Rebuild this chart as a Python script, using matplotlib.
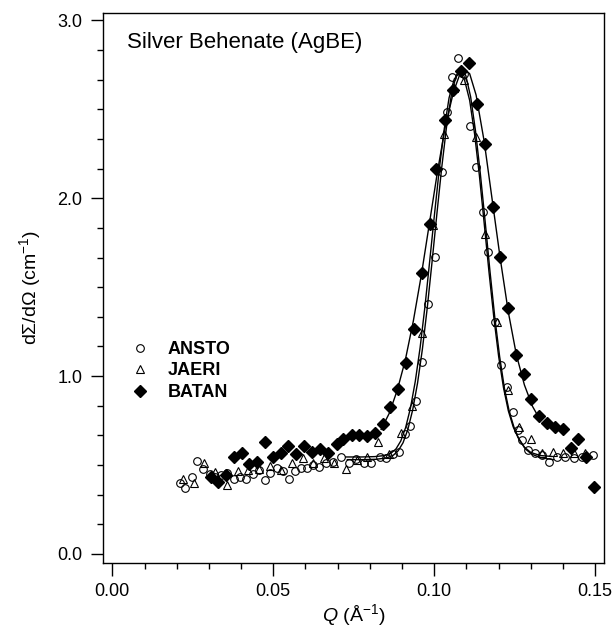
import matplotlib
matplotlib.use("Agg")
import matplotlib.pyplot as plt
from matplotlib.ticker import MultipleLocator, FixedLocator
import numpy as np

plt.rcParams['font.family'] = ['Liberation Sans', 'DejaVu Sans']
plt.rcParams['mathtext.fontset'] = 'custom'
plt.rcParams['mathtext.rm'] = 'Liberation Sans'
plt.rcParams['mathtext.it'] = 'Liberation Sans:italic'

# ANSTO data (open circles)
q_ansto = [0.0210, 0.0226, 0.0247, 0.0264, 0.0283, 0.0303, 0.0320, 0.0336, 0.0356, 0.0377,
           0.0398, 0.0415, 0.0436, 0.0455, 0.0473, 0.0491, 0.0511, 0.0530, 0.0548, 0.0566,
           0.0585, 0.0604, 0.0623, 0.0643, 0.0664, 0.0686, 0.0710, 0.0735, 0.0757, 0.0781,
           0.0805, 0.0830, 0.0850, 0.0872, 0.0891, 0.0908, 0.0925, 0.0943, 0.0961, 0.0981,
           0.1002, 0.1023, 0.1038, 0.1054, 0.1075, 0.1093, 0.1111, 0.1130, 0.1150, 0.1168,
           0.1189, 0.1206, 0.1225, 0.1246, 0.1261, 0.1271, 0.1292, 0.1313, 0.1334, 0.1357,
           0.1380, 0.1406, 0.1434, 0.1458, 0.1494]
i_ansto = [0.400, 0.370, 0.435, 0.520, 0.480, 0.450, 0.430, 0.445, 0.455, 0.420,
           0.435, 0.420, 0.450, 0.470, 0.416, 0.453, 0.481, 0.465, 0.420, 0.465,
           0.485, 0.483, 0.500, 0.488, 0.510, 0.519, 0.543, 0.509, 0.532, 0.513,
           0.509, 0.543, 0.537, 0.560, 0.575, 0.675, 0.720, 0.861, 1.081, 1.408,
           1.670, 2.148, 2.485, 2.682, 2.790, 2.700, 2.404, 2.176, 1.923, 1.698,
           1.305, 1.062, 0.940, 0.800, 0.697, 0.640, 0.584, 0.566, 0.556, 0.519,
           0.547, 0.547, 0.537, 0.547, 0.556]

# JAERI data (open triangles)
q_jaeri = [0.0219, 0.0254, 0.0286, 0.0320, 0.0355, 0.0390, 0.0422, 0.0455, 0.0489, 0.0524,
           0.0558, 0.0592, 0.0624, 0.0657, 0.0690, 0.0726, 0.0759, 0.0792, 0.0826, 0.0860,
           0.0896, 0.0930, 0.0961, 0.0995, 0.1030, 0.1062, 0.1092, 0.1130, 0.1157, 0.1194,
           0.1230, 0.1264, 0.1299, 0.1334, 0.1370, 0.1401, 0.1434, 0.1468]
i_jaeri = [0.420, 0.400, 0.510, 0.460, 0.390, 0.465, 0.470, 0.480, 0.494, 0.472,
           0.513, 0.540, 0.513, 0.537, 0.513, 0.480, 0.526, 0.545, 0.628, 0.560,
           0.680, 0.830, 1.240, 1.850, 2.363, 2.620, 2.663, 2.345, 1.800, 1.305,
           0.921, 0.715, 0.645, 0.570, 0.575, 0.570, 0.566, 0.570]

# BATAN data (filled diamonds)
q_batan = [0.0306, 0.0329, 0.0353, 0.0378, 0.0402, 0.0425, 0.0450, 0.0474, 0.0498, 0.0523,
           0.0547, 0.0570, 0.0595, 0.0620, 0.0645, 0.0671, 0.0697, 0.0718, 0.0743, 0.0767,
           0.0790, 0.0816, 0.0840, 0.0862, 0.0888, 0.0912, 0.0937, 0.0961, 0.0987, 0.1005,
           0.1033, 0.1059, 0.1082, 0.1108, 0.1132, 0.1157, 0.1181, 0.1204, 0.1230, 0.1254,
           0.1279, 0.1302, 0.1326, 0.1349, 0.1375, 0.1401, 0.1424, 0.1447, 0.1471, 0.1496]
i_batan = [0.430, 0.406, 0.444, 0.547, 0.569, 0.506, 0.519, 0.631, 0.547, 0.570,
           0.606, 0.560, 0.605, 0.575, 0.590, 0.570, 0.620, 0.645, 0.667, 0.670,
           0.662, 0.680, 0.730, 0.824, 0.925, 1.071, 1.262, 1.580, 1.854, 2.167,
           2.438, 2.607, 2.715, 2.760, 2.532, 2.303, 1.950, 1.667, 1.380, 1.118,
           1.011, 0.871, 0.775, 0.734, 0.715, 0.701, 0.594, 0.644, 0.547, 0.378]

# fitted curves
q_fit_ansto = [0.0730, 0.0780, 0.0820, 0.0853, 0.0873, 0.0888, 0.0903, 0.0918, 0.0933, 0.0948,
               0.0963, 0.0978, 0.0993, 0.1008, 0.1023, 0.1038, 0.1053, 0.1068, 0.1083, 0.1098,
               0.1113, 0.1128, 0.1143, 0.1158, 0.1173, 0.1188, 0.1203, 0.1218, 0.1233, 0.1248,
               0.1263, 0.1283, 0.1303, 0.1333, 0.1370]
i_fit_ansto = [0.530, 0.530, 0.532, 0.540, 0.555, 0.580, 0.625, 0.700, 0.810, 0.960,
               1.150, 1.380, 1.640, 1.910, 2.170, 2.400, 2.580, 2.690, 2.730, 2.690,
               2.570, 2.380, 2.140, 1.870, 1.590, 1.330, 1.110, 0.930, 0.800, 0.710,
               0.645, 0.590, 0.560, 0.540, 0.530]

q_fit_jaeri = [0.0725, 0.0775, 0.0815, 0.0846, 0.0866, 0.0881, 0.0896, 0.0911, 0.0926, 0.0941,
               0.0956, 0.0971, 0.0986, 0.1001, 0.1016, 0.1031, 0.1046, 0.1062, 0.1078, 0.1094,
               0.1110, 0.1125, 0.1140, 0.1155, 0.1170, 0.1185, 0.1200, 0.1215, 0.1230, 0.1245,
               0.1260, 0.1280, 0.1300, 0.1330, 0.1365]
i_fit_jaeri = [0.545, 0.545, 0.547, 0.553, 0.567, 0.590, 0.635, 0.710, 0.820, 0.970,
               1.160, 1.390, 1.650, 1.915, 2.170, 2.390, 2.565, 2.670, 2.705, 2.665,
               2.550, 2.365, 2.130, 1.860, 1.585, 1.330, 1.110, 0.935, 0.805, 0.715,
               0.655, 0.600, 0.570, 0.553, 0.548]

q_fit_batan = [0.0835, 0.0860, 0.0885, 0.0910, 0.0935, 0.0960, 0.0985, 0.1010, 0.1035, 0.1060,
               0.1080, 0.1095, 0.1110, 0.1130, 0.1155, 0.1180, 0.1205, 0.1230, 0.1255, 0.1280,
               0.1305, 0.1330]
i_fit_batan = [0.700, 0.790, 0.920, 1.090, 1.310, 1.570, 1.860, 2.150, 2.410, 2.600,
               2.700, 2.725, 2.700, 2.580, 2.320, 1.990, 1.660, 1.360, 1.120, 0.950,
               0.830, 0.750]

fig = plt.figure(figsize=(6.15, 6.3), dpi=100)
ax = fig.add_axes([0.168, 0.107, 0.814, 0.873])

ax.plot(q_ansto, i_ansto, 'o', mfc='none', mec='black', mew=0.8, ms=5.5, label='ANSTO')
ax.plot(q_jaeri, i_jaeri, '^', mfc='none', mec='black', mew=0.8, ms=6, label='JAERI')
ax.plot(q_fit_ansto, i_fit_ansto, '-', color='black', lw=1.0)
ax.plot(q_fit_jaeri, i_fit_jaeri, '-', color='black', lw=1.0)
ax.plot(q_fit_batan, i_fit_batan, '-', color='black', lw=1.0)
ax.plot(q_batan, i_batan, 'D', color='black', ms=6, label='BATAN')

ax.set_xlim(-0.0028, 0.1527)
ax.set_ylim(-0.049, 3.044)

ax.xaxis.set_major_locator(FixedLocator([0.0, 0.05, 0.10, 0.15]))
ax.xaxis.set_minor_locator(MultipleLocator(0.01))
ax.yaxis.set_major_locator(FixedLocator([0.0, 1.0, 2.0, 3.0]))
ax.yaxis.set_minor_locator(MultipleLocator(1 / 6))
ax.set_xticklabels(['0.00', '0.05', '0.10', '0.15'])
ax.set_yticklabels(['0.0', '1.0', '2.0', '3.0'])
ax.tick_params(which='major', direction='out', length=9, width=1, labelsize=13, pad=6)
ax.tick_params(which='minor', direction='out', length=4.5, width=1)
for s in ax.spines.values():
    s.set_linewidth(1.0)

ax.set_xlabel(r'$Q$ (Å$^{-1}$)', fontsize=14)
ax.xaxis.set_label_coords(0.5, -0.095)
ax.xaxis.label.set_va('center')
ax.set_ylabel('dΣ/dΩ (cm$^{-1}$)', fontsize=14)
ax.yaxis.set_label_coords(-0.146, 0.5)
ax.yaxis.label.set_va('center')

ax.text(0.047, 0.945, 'Silver Behenate (AgBE)', transform=ax.transAxes,
        fontsize=16, va='center', ha='left')

ax.legend(loc='upper left', bbox_to_anchor=(0.213, 0.459), bbox_transform=fig.transFigure,
          frameon=False, prop={'weight': 'bold', 'size': 13}, handlelength=1.0,
          handletextpad=1.05, labelspacing=0.25, borderpad=0, borderaxespad=0)

fig.savefig('out.png', dpi=100)
